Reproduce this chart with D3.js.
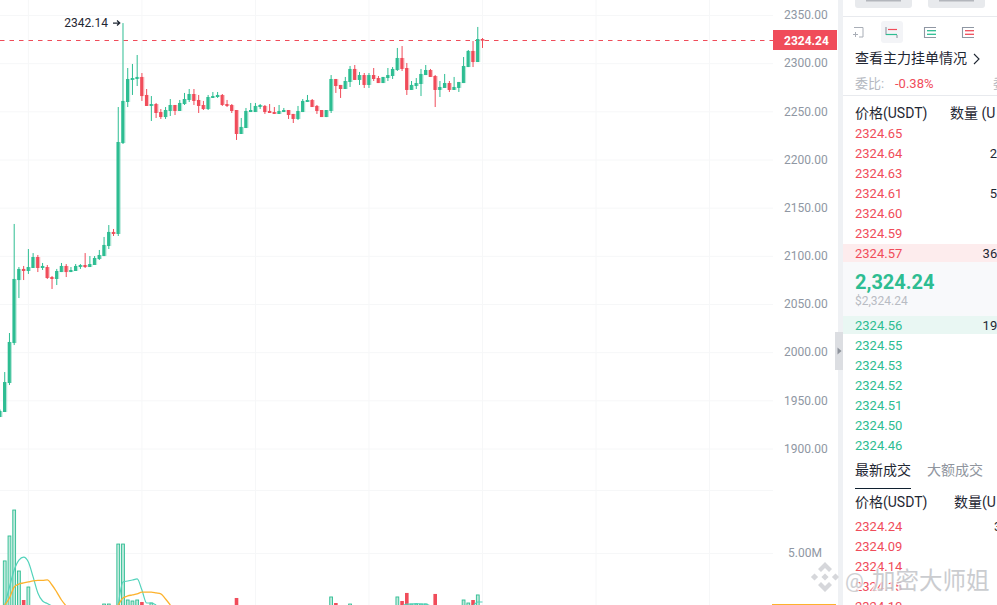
<!DOCTYPE html>
<html><head><meta charset="utf-8">
<script src="https://cdn.jsdelivr.net/npm/d3@7/dist/d3.min.js"></script>
<style>html,body{margin:0;padding:0;background:#fff;overflow:hidden}svg{display:block}text{font-family:Roboto,"Noto Sans CJK SC",sans-serif}</style>
</head><body><svg id="c" width="997" height="605"></svg>
<script>
const priceTicks=[2350,2300,2250,2200,2150,2100,2050,2000,1950,1900];
const lastPrice=2324.24, peakPrice=2342.14;
const opens=[1933.2,1938.4,1968.5,2010.0,2075.4,2086.9,2084.8,2087.9,2099.3,2087.9,2088.9,2078.5,2076.5,2083.7,2090.0,2083.7,2084.8,2088.9,2091.0,2088.9,2091.0,2097.2,2100.3,2110.7,2125.3,2123.2,2217.6,2260.2,2283.1,2284.1,2286.2,2267.5,2256.1,2258.1,2249.8,2244.6,2250.9,2257.1,2250.9,2258.1,2262.3,2268.5,2262.3,2257.1,2252.9,2264.4,2265.4,2267.5,2258.1,2257.1,2251.9,2227.0,2233.2,2249.8,2249.8,2255.0,2256.1,2250.9,2249.8,2247.8,2249.8,2251.9,2247.8,2242.6,2249.8,2260.2,2262.3,2256.1,2251.9,2244.6,2250.9,2284.1,2277.9,2273.7,2281.0,2294.5,2283.1,2288.2,2277.9,2288.2,2285.1,2279.9,2285.1,2287.2,2293.4,2305.9,2295.5,2272.7,2276.8,2278.9,2288.2,2293.4,2287.2,2272.7,2274.8,2279.9,2272.7,2274.8,2279.9,2296.5,2313.2,2301.7,2325.6];
const highs=[1941.0,1979.9,2020.4,2133.6,2088.9,2090.0,2107.6,2103.4,2101.4,2093.1,2091.0,2079.6,2086.9,2093.1,2092.0,2088.9,2092.0,2092.0,2103.4,2100.3,2100.3,2106.6,2120.1,2132.5,2128.4,2255.0,2342.14,2295.5,2299.7,2309.0,2290.3,2273.7,2266.4,2259.2,2252.9,2255.0,2263.3,2257.1,2262.3,2269.6,2273.7,2273.7,2267.5,2261.3,2267.5,2270.6,2270.6,2268.5,2262.3,2258.1,2251.9,2243.6,2254.0,2259.2,2259.2,2258.1,2257.1,2258.1,2255.0,2257.1,2254.0,2251.9,2247.8,2256.1,2263.3,2267.5,2263.3,2257.1,2251.9,2251.9,2288.2,2284.1,2277.9,2286.2,2297.6,2298.6,2291.4,2290.3,2290.3,2295.5,2287.2,2286.2,2295.5,2296.5,2316.3,2318.3,2300.7,2282.0,2285.1,2294.5,2298.6,2294.5,2288.2,2282.0,2289.3,2282.0,2286.2,2281.0,2306.9,2314.2,2323.5,2338.1,2326.6];
const lows=[1933.2,1938.4,1966.4,2007.9,2056.7,2075.4,2081.7,2087.9,2083.7,2085.8,2076.5,2066.1,2070.2,2083.7,2078.5,2083.7,2084.8,2086.9,2087.9,2088.9,2091.0,2096.2,2100.3,2107.6,2121.1,2121.1,2216.6,2255.0,2267.5,2276.8,2261.3,2256.1,2240.5,2243.6,2242.6,2242.6,2245.7,2246.7,2250.9,2257.1,2260.2,2257.1,2248.8,2251.9,2251.9,2264.4,2264.4,2256.1,2255.0,2248.8,2220.8,2227.0,2233.2,2249.8,2249.8,2252.9,2247.8,2248.8,2247.8,2247.8,2249.8,2242.6,2238.4,2241.5,2249.8,2260.2,2255.0,2247.8,2244.6,2244.6,2248.8,2269.6,2264.4,2273.7,2275.8,2283.1,2277.9,2274.8,2274.8,2282.0,2279.9,2279.9,2282.0,2284.1,2292.4,2292.4,2267.5,2272.7,2273.7,2266.4,2288.2,2286.2,2255.0,2265.4,2274.8,2270.6,2272.7,2270.6,2279.9,2296.5,2296.5,2301.7,2316.3];
const closes=[1939.4,1969.5,2011.1,2076.5,2086.9,2084.8,2088.9,2099.3,2087.9,2090.0,2077.5,2076.5,2084.8,2090.0,2083.7,2085.8,2090.0,2091.0,2088.9,2092.0,2098.3,2101.4,2111.8,2125.3,2123.2,2218.7,2261.3,2284.1,2285.1,2286.2,2266.4,2256.1,2258.1,2248.8,2244.6,2251.9,2257.1,2250.9,2259.2,2263.3,2268.5,2261.3,2256.1,2252.9,2265.4,2266.4,2267.5,2257.1,2256.1,2250.9,2227.0,2234.3,2250.9,2251.9,2256.1,2257.1,2249.8,2248.8,2247.8,2250.9,2251.9,2246.7,2242.6,2250.9,2261.3,2262.3,2255.0,2250.9,2244.6,2251.9,2284.1,2276.8,2273.7,2282.0,2294.5,2283.1,2288.2,2277.9,2288.2,2284.1,2279.9,2286.2,2288.2,2294.5,2305.9,2294.5,2272.7,2277.9,2279.9,2289.3,2293.4,2286.2,2272.7,2275.8,2279.9,2272.7,2275.8,2281.0,2297.6,2313.2,2301.7,2325.6,2324.24];
const volumes=[0.8,4.37,6.35,8.41,3.57,1.27,2.30,0.6,0.6,0.5,0.5,0.5,0.5,0.4,0.4,0.3,0.3,0.3,0.3,0.3,0.4,0.5,0.95,0.95,0.5,5.71,5.71,1.27,1.19,1.27,1.11,0.6,1.03,0.6,0.5,0.5,0.5,0.4,0.4,0.4,0.5,0.5,0.5,0.4,0.4,0.3,0.3,0.4,0.4,0.5,1.43,0.5,0.6,0.4,0.3,0.3,0.3,0.3,0.3,0.3,0.3,0.3,0.4,0.4,0.5,0.4,0.3,0.3,0.4,0.4,1.51,1.03,0.6,0.5,0.95,0.6,0.5,0.5,0.5,0.5,0.4,0.3,0.4,0.5,1.51,1.19,1.83,0.95,0.95,0.95,0.95,0.5,1.75,0.6,0.5,0.5,0.4,0.4,1.27,1.03,1.27,1.67,0.6];
const volTicks=[5000000,10000000];
const maTealA=[[1,0.87],[2,2.30],[3,3.65],[4,4.44],[5,4.68],[6,4.29],[7,3.10],[8,1.83],[9,1.19],[10,0.99],[11,0.79]];
const maTealB=[[25,0.87],[26,2.70],[27,2.78],[28,2.86],[29,2.94],[30,2.06],[31,1.03],[32,1.03],[33,0.87]];
const maTealC=[[85,0.79],[86,0.95],[87,0.95],[88,0.99],[89,0.95],[90,0.95],[91,0.79]];
const maTealD=[[100,0.79],[101,1.11],[102,1.11]];
const maOrangeA=[[1,0.87],[2,1.43],[3,2.30],[4,2.54],[5,2.62],[6,2.70],[7,2.78],[8,2.82],[9,2.82],[10,2.86],[11,2.46],[12,1.90],[13,1.27],[14,0.79]];
const maOrangeB=[[25,0.87],[26,1.43],[27,1.59],[28,1.67],[29,1.75],[30,1.90],[31,1.90],[32,1.90],[33,1.83],[34,1.75],[35,1.35],[36,0.87]];
const askPrices=["2324.65","2324.64","2324.63","2324.61","2324.60","2324.59","2324.57"];
const askQty=["","2","","5","","","36"];
const bidPrices=["2324.56","2324.55","2324.53","2324.52","2324.51","2324.50","2324.46"];
const bidQty=["19","","","","","",""];
const tradePrices=["2324.24","2324.09","2324.14","2324.15","2324.10"];

const GREEN="#2dbd92",RED="#f04c5a",GRID="#f6f7f8",AXIS="#8f97a3",DARK="#1f2733";
const svg=d3.select("#c");
const x=d3.scaleLinear().domain([0,102]).range([0,482.5]);
const y=d3.scaleLinear().domain([1900,2350]).range([449,15.5]);
const yv=d3.scaleLinear().domain([0,10000000]).range([616,490]);
const plotW=773;

// grid
const g=svg.append("g");
[6,30,54,78,102,126,150].forEach(i=>g.append("line").attr("x1",x(i)).attr("x2",x(i)).attr("y1",0).attr("y2",605).attr("stroke",GRID));
priceTicks.forEach(p=>g.append("line").attr("x1",0).attr("x2",plotW).attr("y1",y(p)).attr("y2",y(p)).attr("stroke",GRID));
volTicks.forEach(v=>g.append("line").attr("x1",0).attr("x2",plotW).attr("y1",Math.round(yv(v))+.5).attr("y2",Math.round(yv(v))+.5).attr("stroke",GRID));

// volume bars
const idx=d3.range(opens.length);
const bw=3.6;
svg.append("g").selectAll("rect").data(idx).join("rect")
 .attr("x",i=>x(i)-bw/2+(closes[i]>=opens[i]?.4:0))
 .attr("width",i=>closes[i]>=opens[i]?bw-.8:bw)
 .attr("y",i=>yv(volumes[i]*1e6)).attr("height",i=>yv(0)-yv(volumes[i]*1e6))
 .attr("fill",i=>closes[i]>=opens[i]?"#bfe9dc":RED)
 .attr("stroke",i=>closes[i]>=opens[i]?GREEN:"none").attr("stroke-width",.9);

// MA lines
const ln=d3.line().x(d=>x(d[0])).y(d=>yv(d[1]*1e6)).curve(d3.curveMonotoneX);
[maTealA,maTealB,maTealC,maTealD].forEach(s=>svg.append("path").attr("d",ln(s)).attr("fill","none").attr("stroke","#52d3bb").attr("stroke-width",1.2));
[maOrangeA,maOrangeB].forEach(s=>svg.append("path").attr("d",ln(s)).attr("fill","none").attr("stroke","#fdb22d").attr("stroke-width",1.3));

// last price line, snapped to the pixel grid
const lastY=Math.floor(y(lastPrice))+.5;
svg.append("line").attr("x1",0).attr("x2",plotW).attr("y1",lastY).attr("y2",lastY).attr("stroke",RED).attr("stroke-dasharray","4.5 5").attr("stroke-width",1);

// candles
const col=i=>closes[i]>=opens[i]?GREEN:RED;
const cg=svg.append("g");
cg.selectAll("line").data(idx).join("line").attr("x1",i=>x(i)).attr("x2",i=>x(i)).attr("y1",i=>y(highs[i])).attr("y2",i=>y(lows[i])).attr("stroke",col).attr("stroke-width",1);
cg.selectAll("rect.halo").data(idx).join("rect").attr("class","halo").attr("x",i=>x(i)-1.7).attr("width",4.2)
 .attr("y",i=>y(Math.max(opens[i],closes[i]))).attr("height",i=>Math.max(1.6,Math.abs(y(opens[i])-y(closes[i])))).attr("fill",col).attr("opacity",.35);
cg.selectAll("rect.body").data(idx).join("rect").attr("class","body").attr("x",i=>x(i)-1.7).attr("width",3)
 .attr("y",i=>y(Math.max(opens[i],closes[i]))).attr("height",i=>Math.max(1.6,Math.abs(y(opens[i])-y(closes[i])))).attr("fill",col);

// peak annotation
svg.append("text").attr("x",108).attr("y",y(peakPrice)+3.5).attr("text-anchor","end").attr("font-size",12).attr("fill",DARK).text(peakPrice.toFixed(2));
svg.append("path").attr("d",`M113 ${y(peakPrice)}H119.5M117 ${y(peakPrice)-2.5}L119.8 ${y(peakPrice)}L117 ${y(peakPrice)+2.5}`).attr("fill","none").attr("stroke",DARK).attr("stroke-width",1.2);

// axes
const ax=svg.append("g").attr("transform","translate(774,0)").call(d3.axisRight(y).tickValues(priceTicks).tickFormat(d3.format(".2f")).tickSize(0).tickPadding(10));
ax.select(".domain").remove();
ax.selectAll("text").attr("font-size",12).attr("fill",AXIS).style("font-family","Roboto").attr("dy","0.3em");
ax.selectAll(".tick").attr("transform",d=>`translate(0,${y(d)+.2})`);
svg.append("text").attr("x",805).attr("y",yv(5e6)+4).attr("text-anchor","middle").attr("font-size",12).attr("fill",AXIS).text("5.00M");
svg.append("rect").attr("x",772).attr("y",604).attr("width",64).attr("height",1).attr("fill","#fdb22d");

// price tag
svg.append("rect").attr("x",773).attr("y",30).attr("width",64).attr("height",20).attr("fill",RED);
svg.append("text").attr("x",784).attr("y",y(lastPrice)+4.2).attr("font-size",12).attr("font-weight",700).attr("fill","#fff").text(lastPrice.toFixed(2));

// side panel
const P=svg.append("g");
const rect=(a,b,w,h,f)=>P.append("rect").attr("x",a).attr("y",b).attr("width",w).attr("height",h).attr("fill",f);
const txt=(a,b,s,f,sz,w)=>P.append("text").attr("x",a).attr("y",b).attr("font-size",sz||13).attr("fill",f||DARK).attr("font-weight",w||400).text(s);
rect(838,0,5,605,"#eff1f4");
rect(835,332,8,38,"#dcdee2");
P.append("path").attr("d","M837.5 347.5L841.5 351L837.5 354.5Z").attr("fill","#8d929b");
P.append("rect").attr("x",855).attr("y",-6).attr("width",57).attr("height",14).attr("rx",3).attr("fill","#e8eaed");
P.append("rect").attr("x",928).attr("y",-6).attr("width",57).attr("height",14).attr("rx",3).attr("fill","#e8eaed");
rect(866,0,35,1.5,"#b3b6bc");
rect(939,0,35,1.5,"#b3b6bc");
rect(843,16,154,1,"#e8eaee");
rect(843,95,154,1,"#e8eaee");
P.append("rect").attr("x",881).attr("y",21).attr("width",22).attr("height",22).attr("rx",3).attr("fill","#f3f4f7");
// toolbar icons
P.append("path").attr("d","M854 27.5H863V37H859M853 34.5H858M855.5 32V37").attr("fill","none").attr("stroke","#a9aeb7");
P.append("path").attr("d","M886 27V35M897 35V38").attr("stroke","#8f97a3").attr("fill","none").attr("stroke-width",1.1);
P.append("path").attr("d","M886 34.5H897").attr("stroke",GREEN).attr("stroke-width",1.2);
P.append("path").attr("d","M888 29.5H897").attr("stroke",RED).attr("stroke-width",1.2);
P.append("path").attr("d","M936 27.5H924.5V37.5H936").attr("stroke","#8f97a3").attr("fill","none").attr("stroke-width",1.1);
[30.7,34.3].forEach(v=>P.append("path").attr("d",`M927 ${v}H936`).attr("stroke",GREEN).attr("stroke-width",1.3));
P.append("path").attr("d","M974 27.5H962.5V37.5H974").attr("stroke","#8f97a3").attr("fill","none").attr("stroke-width",1.1);
[30.7,34.3].forEach(v=>P.append("path").attr("d",`M965 ${v}H974`).attr("stroke",RED).attr("stroke-width",1.3));

txt(855,63,"查看主力挂单情况",DARK,14);
P.append("path").attr("d","M974 54L979 59L974 64").attr("fill","none").attr("stroke",DARK).attr("stroke-width",1.1);
txt(855,88,"委比:","#b4b8bf",13);
txt(895,88,"-0.38%",RED,13);
txt(993,88,"委","#b4b8bf",13);
txt(855,118,"价格(USDT)",DARK,14);
txt(950,118,"数量 (U",DARK,14);

rect(843,244,154,18,"#fdeced");
rect(843,262,154,54,"#f8f9fb");
rect(843,316,154,18,"#e9f7f3");
askPrices.forEach((s,i)=>{const b=138+i*20;txt(855,b,s,RED,13);if(askQty[i])txt(997-askQty[i].length*7.2,b,askQty[i],DARK,13);});
bidPrices.forEach((s,i)=>{const b=330+i*20;txt(855,b,s,GREEN,13);if(bidQty[i])txt(997-bidQty[i].length*7.2,b,bidQty[i],DARK,13);});
txt(855,289,"2,324.24",GREEN,20,700);
txt(855,305,"$2,324.24","#b8bcc3",12);
txt(855,475,"最新成交",DARK,14);
txt(927,475,"大额成交","#8f959e",14);
rect(855,488,56,1,"#10202f");
txt(855,507,"价格(USDT)",DARK,14);
txt(954,507,"数量(U",DARK,14);
tradePrices.forEach((s,i)=>txt(855,531+i*20,s,RED,13));
txt(994,531,"3",DARK,13);

// watermark
const W=svg.append("g").attr("opacity",.85);
const cx=825,cy=577;
const logo=`M${cx} ${cy-15}L${cx+7} ${cy-8}L${cx+4} ${cy-5}L${cx} ${cy-9}L${cx-4} ${cy-5}L${cx-7} ${cy-8}Z`+
 `M${cx} ${cy+15}L${cx+7} ${cy+8}L${cx+4} ${cy+5}L${cx} ${cy+9}L${cx-4} ${cy+5}L${cx-7} ${cy+8}Z`+
 `M${cx} ${cy-3.6}L${cx+3.6} ${cy}L${cx} ${cy+3.6}L${cx-3.6} ${cy}Z`+
 `M${cx-10.5} ${cy-3.6}L${cx-6.9} ${cy}L${cx-10.5} ${cy+3.6}L${cx-14.1} ${cy}Z`+
 `M${cx+10.5} ${cy-3.6}L${cx+14.1} ${cy}L${cx+10.5} ${cy+3.6}L${cx+6.9} ${cy}Z`;
W.append("path").attr("d",logo).attr("fill","#cfd1d5").attr("stroke","#fff").attr("stroke-width",1).attr("paint-order","stroke");
W.append("text").attr("x",845).attr("y",588).attr("font-size",21).attr("fill","#c6c8cc").attr("stroke","#fff").attr("stroke-width",2).attr("paint-order","stroke").text("@");
W.append("text").attr("x",872).attr("y",589).attr("font-size",23.5).attr("fill","#c2c4c8").attr("stroke","#fff").attr("stroke-width",2).attr("paint-order","stroke").text("加密大师姐");
</script></body></html>
